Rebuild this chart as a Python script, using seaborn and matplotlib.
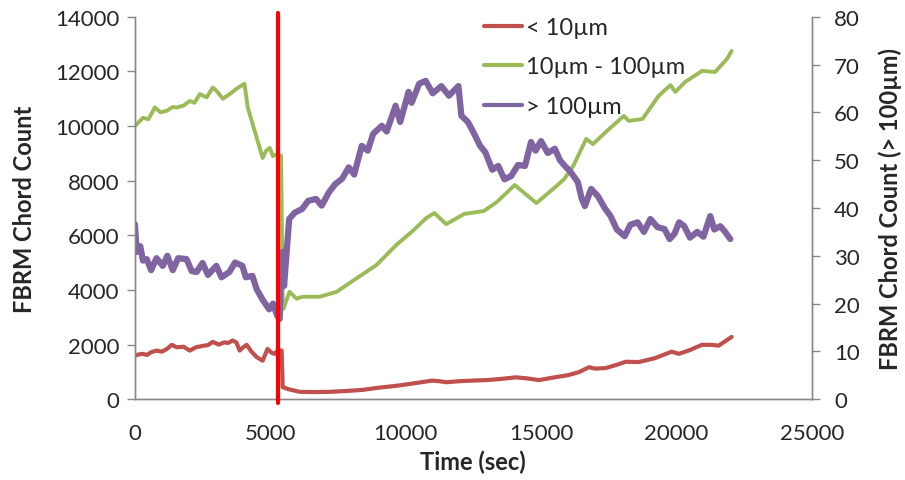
"""
FBRM chord counts over time, three size classes on twin y axes.
"""
import matplotlib
matplotlib.use("Agg")
import matplotlib.pyplot as plt
import pandas as pd
import seaborn as sns

# < 10um (left axis)
t_small = [0, 150, 290, 450, 600, 800, 1000, 1200, 1360, 1550, 1800, 2030, 2250, 2500,
           2700, 2880, 3100, 3300, 3450, 3610, 3750, 3870, 4000, 4130, 4300, 4500, 4720,
           4800, 4900, 5050, 5160, 5300, 5420, 5460, 5700, 6080, 6600, 7190, 7800, 8400,
           9000, 9660, 10300, 10980, 11240, 11500, 12000, 12460, 13000, 13500, 14080,
           14500, 14930, 15500, 16000, 16400, 16770, 17000, 17390, 17800, 18130, 18610,
           19200, 19830, 20090, 20500, 20940, 21300, 21560, 21800, 22040]
n_small = [1590, 1640, 1660, 1620, 1720, 1780, 1740, 1850, 1990, 1900, 1920, 1780, 1900,
           1950, 1980, 2100, 2000, 2080, 2060, 2150, 2080, 1780, 1900, 1990, 1750, 1540,
           1410, 1600, 1840, 1700, 1660, 1800, 1780, 440, 360, 270, 260, 270, 300, 340,
           420, 490, 580, 680, 660, 620, 660, 680, 700, 740, 800, 760, 700, 800, 880, 990,
           1170, 1120, 1140, 1260, 1370, 1360, 1500, 1740, 1660, 1800, 1990, 1990, 1960,
           2120, 2280]

# 10um - 100um (left axis)
t_mid = [0, 150, 300, 500, 740, 950, 1180, 1400, 1550, 1800, 2030, 2200, 2400, 2650, 2880,
         3050, 3250, 3500, 3760, 4050, 4170, 4500, 4720, 4850, 4980, 5100, 5230, 5400,
         5460, 5490, 5710, 5970, 6190, 6820, 7450, 8180, 8920, 9660, 10250, 10760, 11060,
         11500, 12160, 12890, 13370, 14030, 14830, 15450, 15860, 16190, 16670, 16920,
         17510, 18060, 18240, 18750, 19340, 19780, 19960, 20330, 20950, 21430, 21870,
         22040]
n_mid = [10000, 10150, 10300, 10250, 10680, 10500, 10560, 10700, 10680, 10750, 10920,
         10850, 11170, 11050, 11410, 11250, 11000, 11170, 11370, 11550, 10680, 9570, 8830,
         9100, 9200, 8900, 8960, 8920, 3680, 3310, 3930, 3680, 3750, 3750, 3930, 4420,
         4910, 5650, 6150, 6630, 6815, 6410, 6780, 6890, 7220, 7840, 7180, 7700, 8060,
         8540, 9530, 9340, 9890, 10370, 10190, 10260, 11100, 11500, 11250, 11620, 12020,
         11980, 12460, 12750]

# > 100um (right axis)
t_large = [0, 70, 200, 300, 440, 600, 800, 1030, 1200, 1400, 1600, 1910, 2100, 2280, 2500,
           2700, 3010, 3200, 3490, 3700, 3970, 4100, 4340, 4500, 4710, 4960, 5100, 5260,
           5350, 5400, 5460, 5510, 5700, 5900, 6180, 6400, 6690, 6900, 7170, 7400, 7650,
           7900, 8100, 8380, 8600, 8800, 9120, 9300, 9630, 9800, 10110, 10220, 10500,
           10740, 11000, 11320, 11600, 11950, 12060, 12300, 12570, 12750, 12940, 13200,
           13420, 13650, 13900, 14150, 14410, 14630, 14800, 15000, 15250, 15510, 15700,
           15880, 16100, 16360, 16500, 16620, 16850, 17100, 17350, 17570, 17800, 18090,
           18300, 18570, 18800, 19040, 19300, 19560, 19750, 19930, 20100, 20290, 20500,
           20770, 21000, 21250, 21400, 21620, 21800, 21990]
n_large = [36.6, 30.8, 32, 29, 29.3, 27, 29.5, 27.9, 30, 27, 29.5, 29.3, 26.8, 26.6, 28.5,
           26, 27.9, 25.5, 26.6, 28.6, 27.9, 25.5, 25.8, 23, 20.9, 18.8, 20, 17.4, 16.8,
           29.3, 30.8, 23.7, 37.7, 39, 39.8, 41.5, 41.9, 40.5, 43.3, 45, 46.1, 48.5, 47,
           53, 52, 55.5, 57.2, 56, 61.4, 58, 64.3, 62, 66, 66.6, 64, 65.5, 63.5, 65.5,
           59.3, 58, 55.1, 53, 51.7, 48, 48.8, 46, 46.7, 49, 48.8, 53.8, 52, 54, 51.5,
           52.4, 50, 48.8, 47.5, 45.4, 42, 40.4, 44, 42.5, 40, 38.3, 35.5, 34.1, 36.5, 37,
           35, 37.7, 36, 35.6, 33.5, 34.6, 37, 36.2, 33.8, 35, 34, 38.3, 35.5, 36.2, 35,
           33.5]

# time of the marked event (vertical line)
event_time = 5280

labels = ["< 10\u00b5m", "10\u00b5m - 100\u00b5m", "> 100\u00b5m"]
colors = ["#C0504D", "#9BBB59", "#8064A2"]

sns.set_style("white")
plt.rcParams["font.family"] = ["Lato", "DejaVu Sans"]

df_small = pd.DataFrame({"t": t_small, "n": n_small})
df_mid = pd.DataFrame({"t": t_mid, "n": n_mid})
df_large = pd.DataFrame({"t": t_large, "n": n_large})

fig = plt.figure(figsize=(9.05, 4.81), dpi=100)
ax = fig.add_axes([0.149, 0.168, 0.748, 0.795])
ax2 = ax.twinx()

sns.lineplot(data=df_small, x="t", y="n", ax=ax, color=colors[0], lw=3, sort=False)
sns.lineplot(data=df_mid, x="t", y="n", ax=ax, color=colors[1], lw=2.8, sort=False)
sns.lineplot(data=df_large, x="t", y="n", ax=ax2, color=colors[2], lw=4.5, sort=False)

ax.set_xlim(0, 25000)
ax.set_ylim(0, 14000)
ax2.set_ylim(0, 80)
ax.set_xticks(range(0, 25001, 5000))
ax.set_yticks(range(0, 14001, 2000))
ax2.set_yticks(range(0, 81, 10))

grey = "#888888"
for a in (ax, ax2):
    a.spines["top"].set_visible(False)
    for s in ("left", "right", "bottom"):
        a.spines[s].set_color(grey)
        a.spines[s].set_linewidth(1)
    a.tick_params(axis="both", which="both", direction="out", length=6,
                  color=grey, labelsize=16, width=1, pad=5)
ax.tick_params(axis="x", pad=11)
ax2.tick_params(axis="y", pad=10)

ax.set_xlabel("Time (sec)", fontsize=17, fontweight="bold", labelpad=5)
ax.set_ylabel("FBRM Chord Count", fontsize=17, fontweight="bold", labelpad=14)
ax2.set_ylabel("FBRM Chord Count (> 100\u00b5m)", fontsize=17, fontweight="bold",
               labelpad=13)

ax2.axvline(event_time, ymin=-0.01, ymax=1.01, color="#FF0000", lw=3,
            clip_on=False, zorder=10)

handles = ax.get_lines()[:2] + ax2.get_lines()[:1]
leg = ax2.legend(handles, labels, loc="upper left", bbox_to_anchor=(0.485, 1.055),
                 frameon=False, fontsize=17, handlelength=1.6, handletextpad=0.15,
                 labelspacing=0.78)
for h in leg.get_lines():
    h.set_linewidth(3)

fig.savefig("out.png", dpi=100)
